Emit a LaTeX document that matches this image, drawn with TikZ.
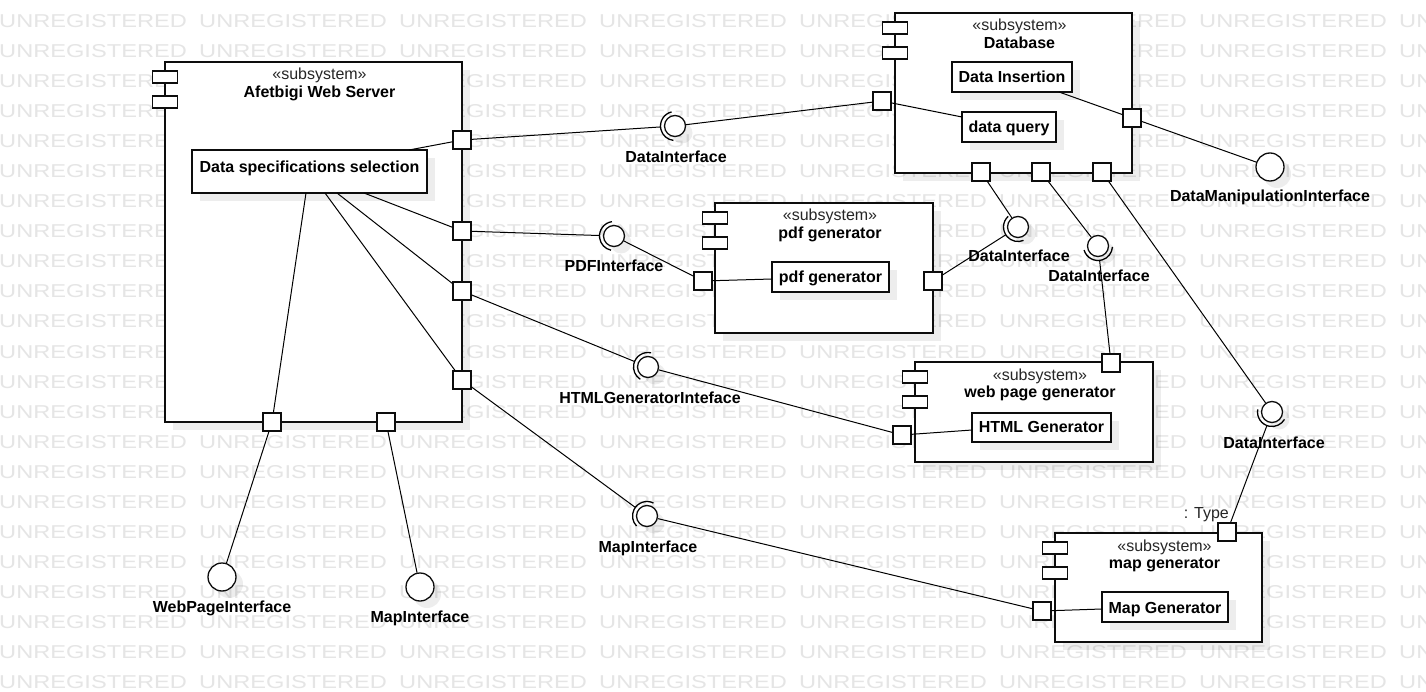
\documentclass[tikz,border=0pt]{standalone}
\usepackage{graphicx}
\usepackage{fontspec}
\setmainfont{Liberation Sans}
\usetikzlibrary{calc}
\definecolor{wmgray}{gray}{0.9}
\definecolor{edge}{gray}{0.05}

\tikzset{
  wm/.style={anchor=base west, inner sep=0, text=wmgray, font=\fontsize{18.6}{20}\selectfont},
  shadowfill/.style={fill=black, opacity=0.07, draw=none},
  subsys/.style={draw=edge, fill=white, line width=1.4pt},
  innerrect/.style={draw=edge, fill=white, line width=1.4pt},
  iconrect/.style={draw=edge, fill=white, line width=1.3pt, minimum width=25pt, minimum height=12pt, inner sep=0},
  port/.style={draw=edge, fill=white, line width=1.3pt, minimum size=18pt, inner sep=0, rectangle},
  conn/.style={draw=black, line width=1pt},
  ball/.style={circle, draw=edge, fill=white, line width=1.3pt, minimum size=21pt, inner sep=0},
  lolli/.style={circle, draw=edge, fill=white, line width=1.3pt, minimum size=28pt, inner sep=0},
  sockring/.style={circle, minimum size=29pt, inner sep=0},
  lbl/.style={anchor=base, inner sep=0, font=\fontsize{16}{19}\selectfont\bfseries},
  stereo/.style={anchor=base, inner sep=0, font=\fontsize{16}{19}\selectfont, text=black!85},
  boxtext/.style={anchor=base, inner sep=0, font=\fontsize{16}{19}\selectfont\bfseries},
}

% #1 name, #2 x1, #3 top, #4 x2, #5 bottom, #6 title
\newcommand{\subsysbox}[6]{%
  \fill[shadowfill] (#2+8,-#3-8) rectangle (#4+8,-#5-8);
  \draw[subsys] (#2,-#3) rectangle (#4,-#5);
  \node[iconrect] (#1-i1) at (#2,-#3-15) {};
  \node[iconrect] (#1-i2) at (#2,-#3-40) {};
  \node[stereo] (#1-st) at ({(#2+#4)/2+6},-#3-18) {«subsystem»};
  \node[boxtext] (#1-ti) at ({(#2+#4)/2+6},-#3-35.5) {#6};
}
% #1 name, #2 x1, #3 top, #4 x2, #5 bottom, #6 baseline, #7 text
\newcommand{\innerbox}[7]{%
  \fill[shadowfill] (#2+8,-#3-8) rectangle (#4+8,-#5-8);
  \draw[innerrect] (#2,-#3) rectangle (#4,-#5);
  \node[boxtext] (#1) at ({(#2+#4)/2},-#6) {#7};
}
% #1 name, #2 x, #3 y, #4 required port, #5 label, #6 label x, #7 label baseline
\newcommand{\socketsym}[7]{%
  \fill[shadowfill] (#2+7,-#3-7) circle[radius=10.5pt];
  \node[ball] (#1) at (#2,-#3) {};
  \node[sockring] (#1-o) at (#2,-#3) {};
  \draw[conn, line width=1.3pt] let \p1=($(#4)-(#1)$), \n1={atan2(\y1,\x1)} in
    ($(#1)+(\n1-80:14.5pt)$) arc[start angle=\n1-80, end angle=\n1+80, radius=14.5pt];
  \node[lbl] (#1-l) at (#6,-#7) {#5};
}
% #1 name, #2 x, #3 y, #4 label, #5 label x, #6 baseline
\newcommand{\lollisym}[6]{%
  \fill[shadowfill] (#2+7,-#3-7) circle[radius=14pt];
  \node[lolli] (#1) at (#2,-#3) {};
  \node[lbl] (#1-l) at (#5,-#6) {#4};
}

\begin{document}
\begin{tikzpicture}[x=1pt,y=1pt]
\useasboundingbox (0,0) rectangle (1426,-692);
\fill[white] (0,0) rectangle (1426,-692);

% watermark
\foreach \r in {0,...,22}{\foreach \c in {0,...,7}{%
  \node[wm] (wm-\r-\c) at (\c*200-1,-28-\r*30) {\scalebox{1.27}[1]{UNREGISTERED}};}}

% subsystems
\subsysbox{ws}{165}{62}{462}{422}{Afetbigi Web Server}
\subsysbox{db}{895}{13}{1132}{173}{Database}
\subsysbox{pg}{715}{203}{933}{333}{pdf generator}
\subsysbox{wp}{915}{362}{1153}{462}{web page generator}
\subsysbox{mg}{1055}{533}{1262}{642}{map generator}

% inner components
\innerbox{dss}{192}{150}{427}{193}{173}{Data specifications selection}
\innerbox{di}{952}{62}{1072}{92}{83}{Data Insertion}
\innerbox{dq}{962}{112}{1056}{142}{133}{data query}
\innerbox{pgi}{772}{262}{889}{292}{283}{pdf generator}
\innerbox{hg}{972}{413}{1111}{442}{432.5}{HTML Generator}
\innerbox{mgi}{1102}{592}{1228}{622}{613}{Map Generator}

% attachment points on inner components
\coordinate (dssA) at (409,-150);
\coordinate (dssB) at (364,-193);
\coordinate (dssC) at (337,-193);
\coordinate (dssD) at (325,-193);
\coordinate (dssE) at (306,-193);
\coordinate (dqA) at (962,-117);
\coordinate (diA) at (1059,-92);
\coordinate (pgA) at (772,-279);
\coordinate (hgA) at (972,-430);
\coordinate (mgA) at (1102,-609);

% ports
\node[port] (wsP1) at (462,-140) {};
\node[port] (wsP2) at (462,-231) {};
\node[port] (wsP3) at (462,-291) {};
\node[port] (wsP4) at (462,-380) {};
\node[port] (wsP5) at (272,-422) {};
\node[port] (wsP6) at (386,-422) {};
\node[port] (dbL) at (882,-101) {};
\node[port] (dbR) at (1132,-118) {};
\node[port] (dbB1) at (981,-172) {};
\node[port] (dbB2) at (1041,-172) {};
\node[port] (dbB3) at (1102,-172) {};
\node[port] (pgL) at (703,-281) {};
\node[port] (pgR) at (933,-281) {};
\node[port] (wpL) at (902,-435) {};
\node[port] (wpT) at (1111,-363) {};
\node[port] (mgL) at (1042,-611) {};
\node[port] (mgT) at (1227,-532) {};
\node[anchor=base east, inner sep=0, font=\fontsize{16}{19}\selectfont, text=black!85] (typeLbl) at (1229,-518) {: Type};

% interfaces
\socketsym{s1}{675}{126}{wsP1}{DataInterface}{676}{163}
\socketsym{s2}{614}{236}{wsP2}{PDFInterface}{614}{272}
\socketsym{s3}{1018}{227}{pgR}{DataInterface}{1019}{262}
\socketsym{s4}{1098}{246}{wpT}{DataInterface}{1099}{282}
\socketsym{s5}{1272}{412}{mgT}{DataInterface}{1274}{448}
\socketsym{s6}{648}{367}{wsP3}{HTMLGeneratorInteface}{650}{403}
\socketsym{s7}{647}{516}{wsP4}{MapInterface}{648}{552}
\lollisym{b1}{222}{577}{WebPageInterface}{222}{612}
\lollisym{b2}{420}{587}{MapInterface}{420}{622}
\lollisym{b3}{1270}{167}{DataManipulationInterface}{1270}{202}

% internal connectors
\draw[conn] (dssA) -- (wsP1);
\draw[conn] (dssB) -- (wsP2);
\draw[conn] (dssC) -- (wsP3);
\draw[conn] (dssD) -- (wsP4);
\draw[conn] (dssE) -- (wsP5);
\draw[conn] (dqA) -- (dbL);
\draw[conn] (diA) -- (dbR);
\draw[conn] (pgA) -- (pgL);
\draw[conn] (hgA) -- (wpL);
\draw[conn] (mgA) -- (mgL);

% external connectors
\draw[conn] (wsP1) -- (s1-o);
\draw[conn] (dbL) -- (s1);
\draw[conn] (wsP2) -- (s2-o);
\draw[conn] (pgL) -- (s2);
\draw[conn] (pgR) -- (s3-o);
\draw[conn] (dbB1) -- (s3);
\draw[conn] (wpT) -- (s4-o);
\draw[conn] (dbB2) -- (s4);
\draw[conn] (mgT) -- (s5-o);
\draw[conn] (dbB3) -- (s5);
\draw[conn] (wsP3) -- (s6-o);
\draw[conn] (wpL) -- (s6);
\draw[conn] (wsP4) -- (s7-o);
\draw[conn] (mgL) -- (s7);
\draw[conn] (wsP5) -- (b1);
\draw[conn] (wsP6) -- (b2);
\draw[conn] (dbR) -- (b3);
\end{tikzpicture}
\end{document}
